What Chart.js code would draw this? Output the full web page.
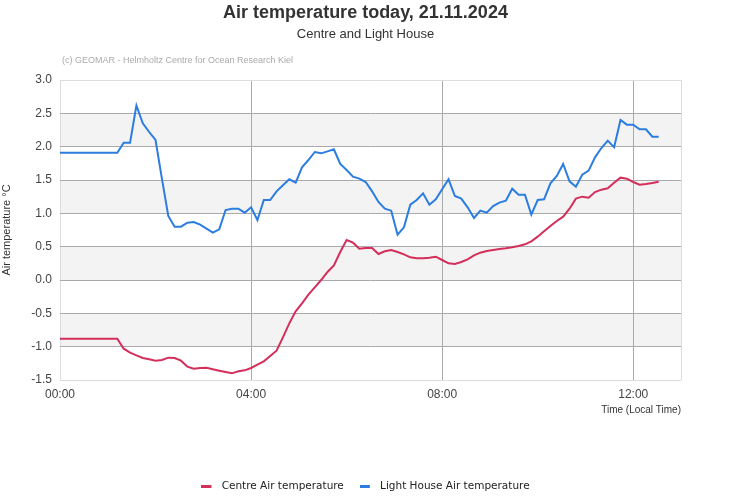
<!DOCTYPE html>
<html>
<head>
<meta charset="utf-8">
<script src="https://cdn.jsdelivr.net/npm/chart.js@4"></script>
<style>
  html, body { margin: 0; padding: 0; background: #fff; }
  #wrap { width: 731px; height: 500px; }
</style>
</head>
<body>
<div id="wrap"><canvas id="mycanvas"></canvas></div>
<script>
// sample times, every 8 minutes
var times = [
  '00:00','00:08','00:16','00:24','00:32','00:40','00:48','00:56',
  '01:04','01:12','01:20','01:28','01:36','01:44','01:52',
  '02:00','02:08','02:16','02:24','02:32','02:40','02:48','02:56',
  '03:04','03:12','03:20','03:28','03:36','03:44','03:52',
  '04:00','04:08','04:16','04:24','04:32','04:40','04:48','04:56',
  '05:04','05:12','05:20','05:28','05:36','05:44','05:52',
  '06:00','06:08','06:16','06:24','06:32','06:40','06:48','06:56',
  '07:04','07:12','07:20','07:28','07:36','07:44','07:52',
  '08:00','08:08','08:16','08:24','08:32','08:40','08:48','08:56',
  '09:04','09:12','09:20','09:28','09:36','09:44','09:52',
  '10:00','10:08','10:16','10:24','10:32','10:40','10:48','10:56',
  '11:04','11:12','11:20','11:28','11:36','11:44','11:52',
  '12:00','12:08','12:16','12:24','12:32'
];

var centre = [
  -0.88,-0.88,-0.88,-0.88,-0.88,-0.88,-0.88,-0.88,-0.88,-0.88,
  -1.03,-1.09,-1.13,-1.17,-1.19,-1.21,-1.20,-1.165,-1.17,-1.21,
  -1.30,-1.33,-1.32,-1.315,-1.34,-1.36,-1.38,-1.40,-1.37,-1.355,
  -1.32,-1.27,-1.22,-1.14,-1.06,-0.86,-0.65,-0.47,-0.35,-0.22,
  -0.11,0.00,0.12,0.22,0.42,0.60,0.56,0.47,0.48,0.48,
  0.39,0.43,0.45,0.42,0.385,0.34,0.325,0.325,0.335,0.35,
  0.30,0.25,0.24,0.27,0.31,0.37,0.41,0.435,0.45,0.465,
  0.475,0.49,0.51,0.535,0.58,0.65,0.73,0.81,0.885,0.95,
  1.07,1.22,1.25,1.235,1.32,1.355,1.375,1.46,1.535,1.52,
  1.47,1.43,1.44,1.455,1.475
];

var lightHouse = [
  1.91,1.91,1.91,1.91,1.91,1.91,1.91,1.91,1.91,1.91,
  2.06,2.06,2.62,2.35,2.22,2.10,1.52,0.96,0.80,0.80,
  0.86,0.87,0.83,0.77,0.71,0.76,1.05,1.07,1.07,1.01,
  1.09,0.90,1.20,1.20,1.33,1.42,1.51,1.46,1.69,1.80,
  1.92,1.90,1.93,1.96,1.74,1.65,1.55,1.52,1.47,1.33,
  1.17,1.07,1.04,0.68,0.79,1.13,1.20,1.30,1.13,1.21,
  1.36,1.51,1.26,1.22,1.09,0.93,1.04,1.01,1.11,1.16,
  1.19,1.37,1.28,1.28,0.98,1.20,1.21,1.45,1.56,1.74,
  1.48,1.40,1.58,1.64,1.84,1.98,2.09,1.99,2.40,2.33,
  2.33,2.26,2.26,2.15,2.15
];

var xTicks = [0, 240, 480, 720, 780];   // minutes, 780 = right edge (no label)
var bandStarts = [2.5, 1.5, 0.5, -0.5];  // shaded 0.5 wide bands below these

var RED = '#d42e5b';
var BLUE = '#2b7de0';

function toMinutes(s) {
  var p = s.split(':');
  return parseInt(p[0], 10) * 60 + parseInt(p[1], 10);
}
function pad(n) { return (n < 10 ? '0' : '') + n; }

function points(values) {
  var out = [];
  for (var i in values) {
    out.push({ x: toMinutes(times[i]), y: values[i] });
  }
  return out;
}

// small legend marker: 10px line, rest of the canvas left blank as gap before text
function marker(color) {
  var c = document.createElement('canvas');
  c.width = 15;
  c.height = 3;
  var g = c.getContext('2d');
  g.fillStyle = color;
  g.fillRect(0, 0, 10, 3);
  return c;
}

var bands = {
  id: 'bands',
  beforeDraw: function(chart) {
    var ctx = chart.ctx, area = chart.chartArea, y = chart.scales.y;
    ctx.save();
    ctx.fillStyle = '#f3f3f3';
    bandStarts.forEach(function(v) {
      var top = y.getPixelForValue(v), bot = y.getPixelForValue(v - 0.5);
      ctx.fillRect(area.left, top, area.right - area.left, bot - top);
    });
    ctx.restore();
  },
  afterDraw: function(chart) {
    var ctx = chart.ctx;
    ctx.save();
    ctx.font = '9px "Liberation Sans", Arial, sans-serif';
    ctx.fillStyle = '#aaaaaa';
    ctx.textBaseline = 'middle';
    ctx.textAlign = 'left';
    ctx.fillText('(c) GEOMAR - Helmholtz Centre for Ocean Research Kiel', 62, 61);
    ctx.restore();
  }
};

Chart.defaults.font.family = '"Liberation Sans", Arial, sans-serif';
Chart.defaults.color = '#444';

var defaultLabels = Chart.defaults.plugins.legend.labels.generateLabels;

var ctx = document.getElementById('mycanvas');
var LineGraph = new Chart(ctx, {
  type: 'line',
  data: {
    datasets: [
      {
        label: 'Centre Air temperature',
        data: points(centre),
        borderColor: RED,
        backgroundColor: RED,
        borderWidth: 2,
        pointRadius: 0,
        tension: 0
      },
      {
        label: 'Light House Air temperature',
        data: points(lightHouse),
        borderColor: BLUE,
        backgroundColor: BLUE,
        borderWidth: 2,
        pointRadius: 0,
        tension: 0
      }
    ]
  },
  options: {
    responsive: true,
    maintainAspectRatio: false,
    animation: false,
    layout: { padding: { top: 2, left: 0, right: 0, bottom: -2 } },
    plugins: {
      title: {
        display: true,
        text: 'Air temperature today, 21.11.2024',
        color: '#333',
        font: { size: 18, weight: 'bold' },
        padding: { top: 0, bottom: 3 }
      },
      subtitle: {
        display: true,
        text: 'Centre and Light House',
        color: '#333',
        font: { size: 13 },
        padding: { top: 0, bottom: 37.8 }
      },
      legend: {
        position: 'bottom',
        labels: {
          color: '#222',
          font: { family: '"DejaVu Sans", sans-serif', size: 10.5 },
          usePointStyle: true,
          pointStyleWidth: 15,
          padding: 16,
          generateLabels: function(chart) {
            var items = defaultLabels(chart);
            items.forEach(function(it) {
              var ds = chart.data.datasets[it.datasetIndex];
              it.pointStyle = marker(ds.borderColor);
            });
            return items;
          }
        }
      },
      tooltip: { enabled: false }
    },
    scales: {
      x: {
        type: 'linear',
        min: 0,
        max: 780,
        afterBuildTicks: function(scale) {
          scale.ticks = xTicks.map(function(v) { return { value: v }; });
        },
        afterFit: function(scale) { scale.height = 85.5; },
        ticks: {
          color: '#444',
          font: { size: 12 },
          padding: 7,
          maxRotation: 0,
          callback: function(v) {
            if (v === 780) return '';
            return pad(Math.floor(v / 60)) + ':' + pad(v % 60);
          }
        },
        grid: {
          drawTicks: false,
          color: function(c) {
            return (c.tick.value === 0 || c.tick.value === 780) ? '#dddddd' : '#aaaaaa';
          }
        },
        border: { display: false },
        title: {
          display: true,
          text: 'Time (Local Time)',
          align: 'end',
          color: '#333',
          font: { size: 10 },
          padding: { top: 0, bottom: 49.5 }
        }
      },
      y: {
        min: -1.5,
        max: 3.0,
        afterFit: function(scale) { scale.width = 60; },
        ticks: {
          stepSize: 0.5,
          color: '#444',
          font: { size: 12 },
          padding: 8,
          callback: function(v) { return v.toFixed(1); }
        },
        grid: {
          drawTicks: false,
          color: function(c) {
            return (c.tick.value === 3 || c.tick.value === -1.5) ? '#dddddd' : '#aaaaaa';
          }
        },
        border: { display: false },
        title: {
          display: true,
          text: 'Air temperature °C',
          color: '#333',
          font: { size: 11 },
          padding: 0
        }
      },
      // empty right-hand box, keeps 50px free right of the plot
      yRight: {
        position: 'right',
        display: true,
        afterFit: function(scale) { scale.width = 50; },
        ticks: { display: false },
        grid: { display: false },
        border: { display: false }
      }
    }
  },
  plugins: [bands]
});
</script>
</body>
</html>
